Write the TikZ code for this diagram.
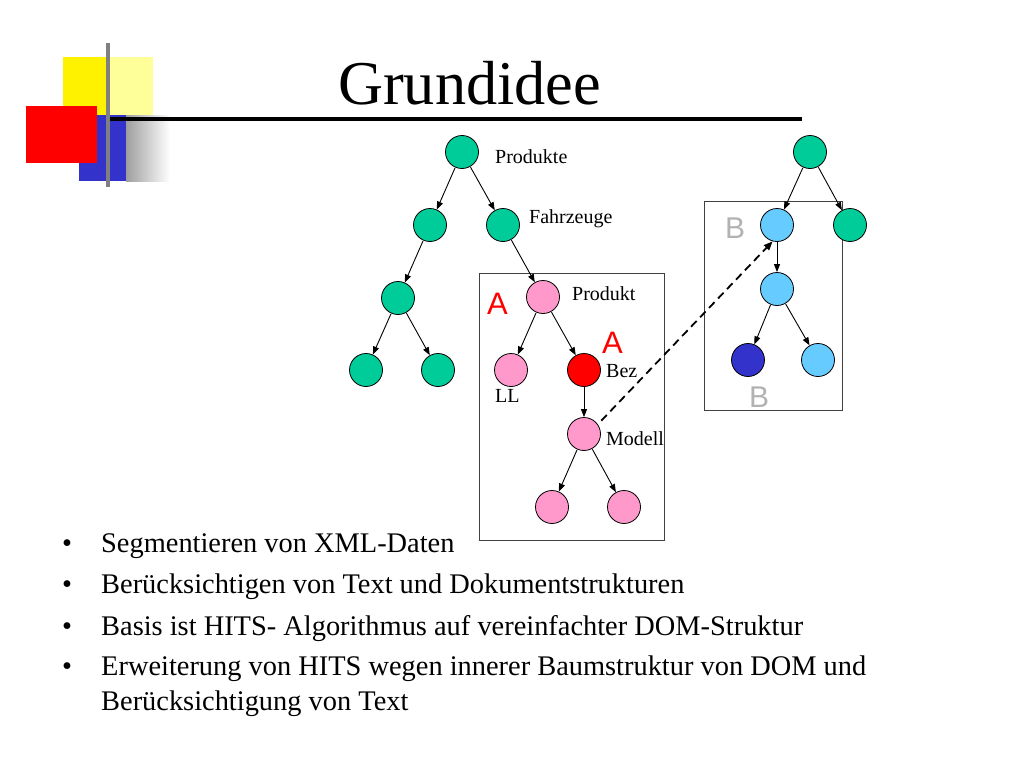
\documentclass[tikz,border=0pt]{standalone}
\usepackage{fontspec}
\setmainfont{Liberation Serif}
\newfontfamily\arialfont{Liberation Sans}
\usetikzlibrary{arrows.meta}
\definecolor{tgreen}{RGB}{0,204,153}
\definecolor{tpink}{RGB}{255,153,204}
\definecolor{tred}{RGB}{255,0,0}
\definecolor{tlblue}{RGB}{102,204,255}
\definecolor{tdblue}{RGB}{51,51,204}
\definecolor{tgrayB}{RGB}{178,178,178}
\definecolor{lyellow}{RGB}{255,255,153}
\definecolor{boxgray}{RGB}{64,64,64}
\tikzset{
  treenode/.style={circle,draw=black,line width=0.8pt,minimum size=33pt,inner sep=0pt},
  gnode/.style={treenode,fill=tgreen},
  pnode/.style={treenode,fill=tpink},
  rnode/.style={treenode,fill=tred},
  lbnode/.style={treenode,fill=tlblue},
  dbnode/.style={treenode,fill=tdblue},
  treeedge/.style={-{Triangle[length=8pt,width=6pt]},line width=0.9pt,shorten <=0.5pt},
  lbl/.style={font=\fontsize{20}{24}\selectfont,anchor=base west,inner sep=0pt},
  bigA/.style={font=\arialfont\fontsize{31}{36}\selectfont,text=tred,anchor=base west,inner sep=0pt},
  bigB/.style={font=\arialfont\fontsize{30}{36}\selectfont,text=tgrayB,anchor=base west,inner sep=0pt},
  region/.style={draw=boxgray,line width=1pt},
  bullettext/.style={font=\fontsize{28.4}{34}\selectfont,anchor=base west,inner sep=0pt},
}
\begin{document}
\begin{tikzpicture}[x=1pt,y=-1pt]
\useasboundingbox[fill=white] (0,0) rectangle (1024,768);
% logo
\fill[yellow] (63,57) rectangle (108,115);
\fill[lyellow] (108,57) rectangle (153,115);
\fill[tdblue] (79,115) rectangle (126,181);
\fill[tred] (26,106) rectangle (97,163);
\shade[left color=black!38, right color=white] (126,115) rectangle (170,181);
\fill[black!50] (106,43) rectangle (110,187);
\fill[black] (110,117.3) rectangle (802,121);
% title
\node[font=\fontsize{62.3}{70}\selectfont,anchor=base west,inner sep=0pt] (title) at (338,104) {Grundidee};
% boxes
\draw[region] (479,273) rectangle (664,540);
\draw[region] (704,201) rectangle (842,410);
% left tree
\node[gnode] (P) at (462,152) {};
\node[gnode] (L2a) at (430,225) {};
\node[gnode] (L2b) at (503,225) {};
\node[gnode] (L3) at (398,298) {};
\node[gnode] (L4a) at (366,370) {};
\node[gnode] (L4b) at (438,370) {};
\node[pnode] (Prod) at (543,297) {};
\node[pnode] (LL) at (511,370) {};
\node[rnode] (Bez) at (584,370) {};
\node[pnode] (Mod) at (584,434) {};
\node[pnode] (M1) at (552,507) {};
\node[pnode] (M2) at (624,507) {};
% right tree
\node[gnode] (R) at (810,152) {};
\node[lbnode] (B1) at (777,225) {};
\node[gnode] (G2) at (850,225) {};
\node[lbnode] (B2) at (777,289) {};
\node[dbnode] (DB) at (748,360) {};
\node[lbnode] (LB) at (818,360) {};
% edges
\draw[treeedge] (P) -- (L2a);
\draw[treeedge] (P) -- (L2b);
\draw[treeedge] (L2a) -- (L3);
\draw[treeedge] (L3) -- (L4a);
\draw[treeedge] (L3) -- (L4b);
\draw[treeedge] (L2b) -- (Prod);
\draw[treeedge] (Prod) -- (LL);
\draw[treeedge] (Prod) -- (Bez);
\draw[treeedge] (Bez) -- (Mod);
\draw[treeedge] (Mod) -- (M1);
\draw[treeedge] (Mod) -- (M2);
\draw[treeedge] (R) -- (B1);
\draw[treeedge] (R) -- (G2);
\draw[treeedge] (B1) -- (B2);
\draw[treeedge] (B2) -- (DB);
\draw[treeedge] (B2) -- (LB);
\draw[-{Triangle[length=9pt,width=7pt]},line width=1.8pt,dash pattern=on 8pt off 5pt,shorten <=5pt] (Mod.35) -- (B1.255);
% labels
\node[lbl] (tProdukte) at (495,163) {Produkte};
\node[lbl] (tFahrzeuge) at (529,223) {Fahrzeuge};
\node[lbl] (tProdukt) at (572,300) {Produkt};
\node[lbl] (tBez) at (606,377) {Bez};
\node[lbl] (tLL) at (495,402) {LL};
\node[lbl] (tModell) at (606,445) {Modell};
\node[bigA] (A1) at (487,314) {A};
\node[bigA] (A2) at (602,353) {A};
\node[bigB] (B1l) at (725,238) {B};
\node[bigB] (B2l) at (749,407) {B};
% bullets
\foreach \yy/\nm in {552/b1,593/b2,635/b3,675/b4}{
  \node[bullettext] (\nm) at (62,\yy) {•};
}
\node[bullettext] (t1) at (101,552) {Segmentieren von XML-Daten};
\node[bullettext] (t2) at (101,593) {Berücksichtigen von Text und Dokumentstrukturen};
\node[bullettext] (t3) at (101,635) {Basis ist HITS- Algorithmus auf vereinfachter DOM-Struktur};
\node[bullettext] (t4) at (101,675) {Erweiterung von HITS wegen innerer Baumstruktur von DOM und};
\node[bullettext] (t5) at (101,710) {Berücksichtigung von Text};
\end{tikzpicture}
\end{document}
